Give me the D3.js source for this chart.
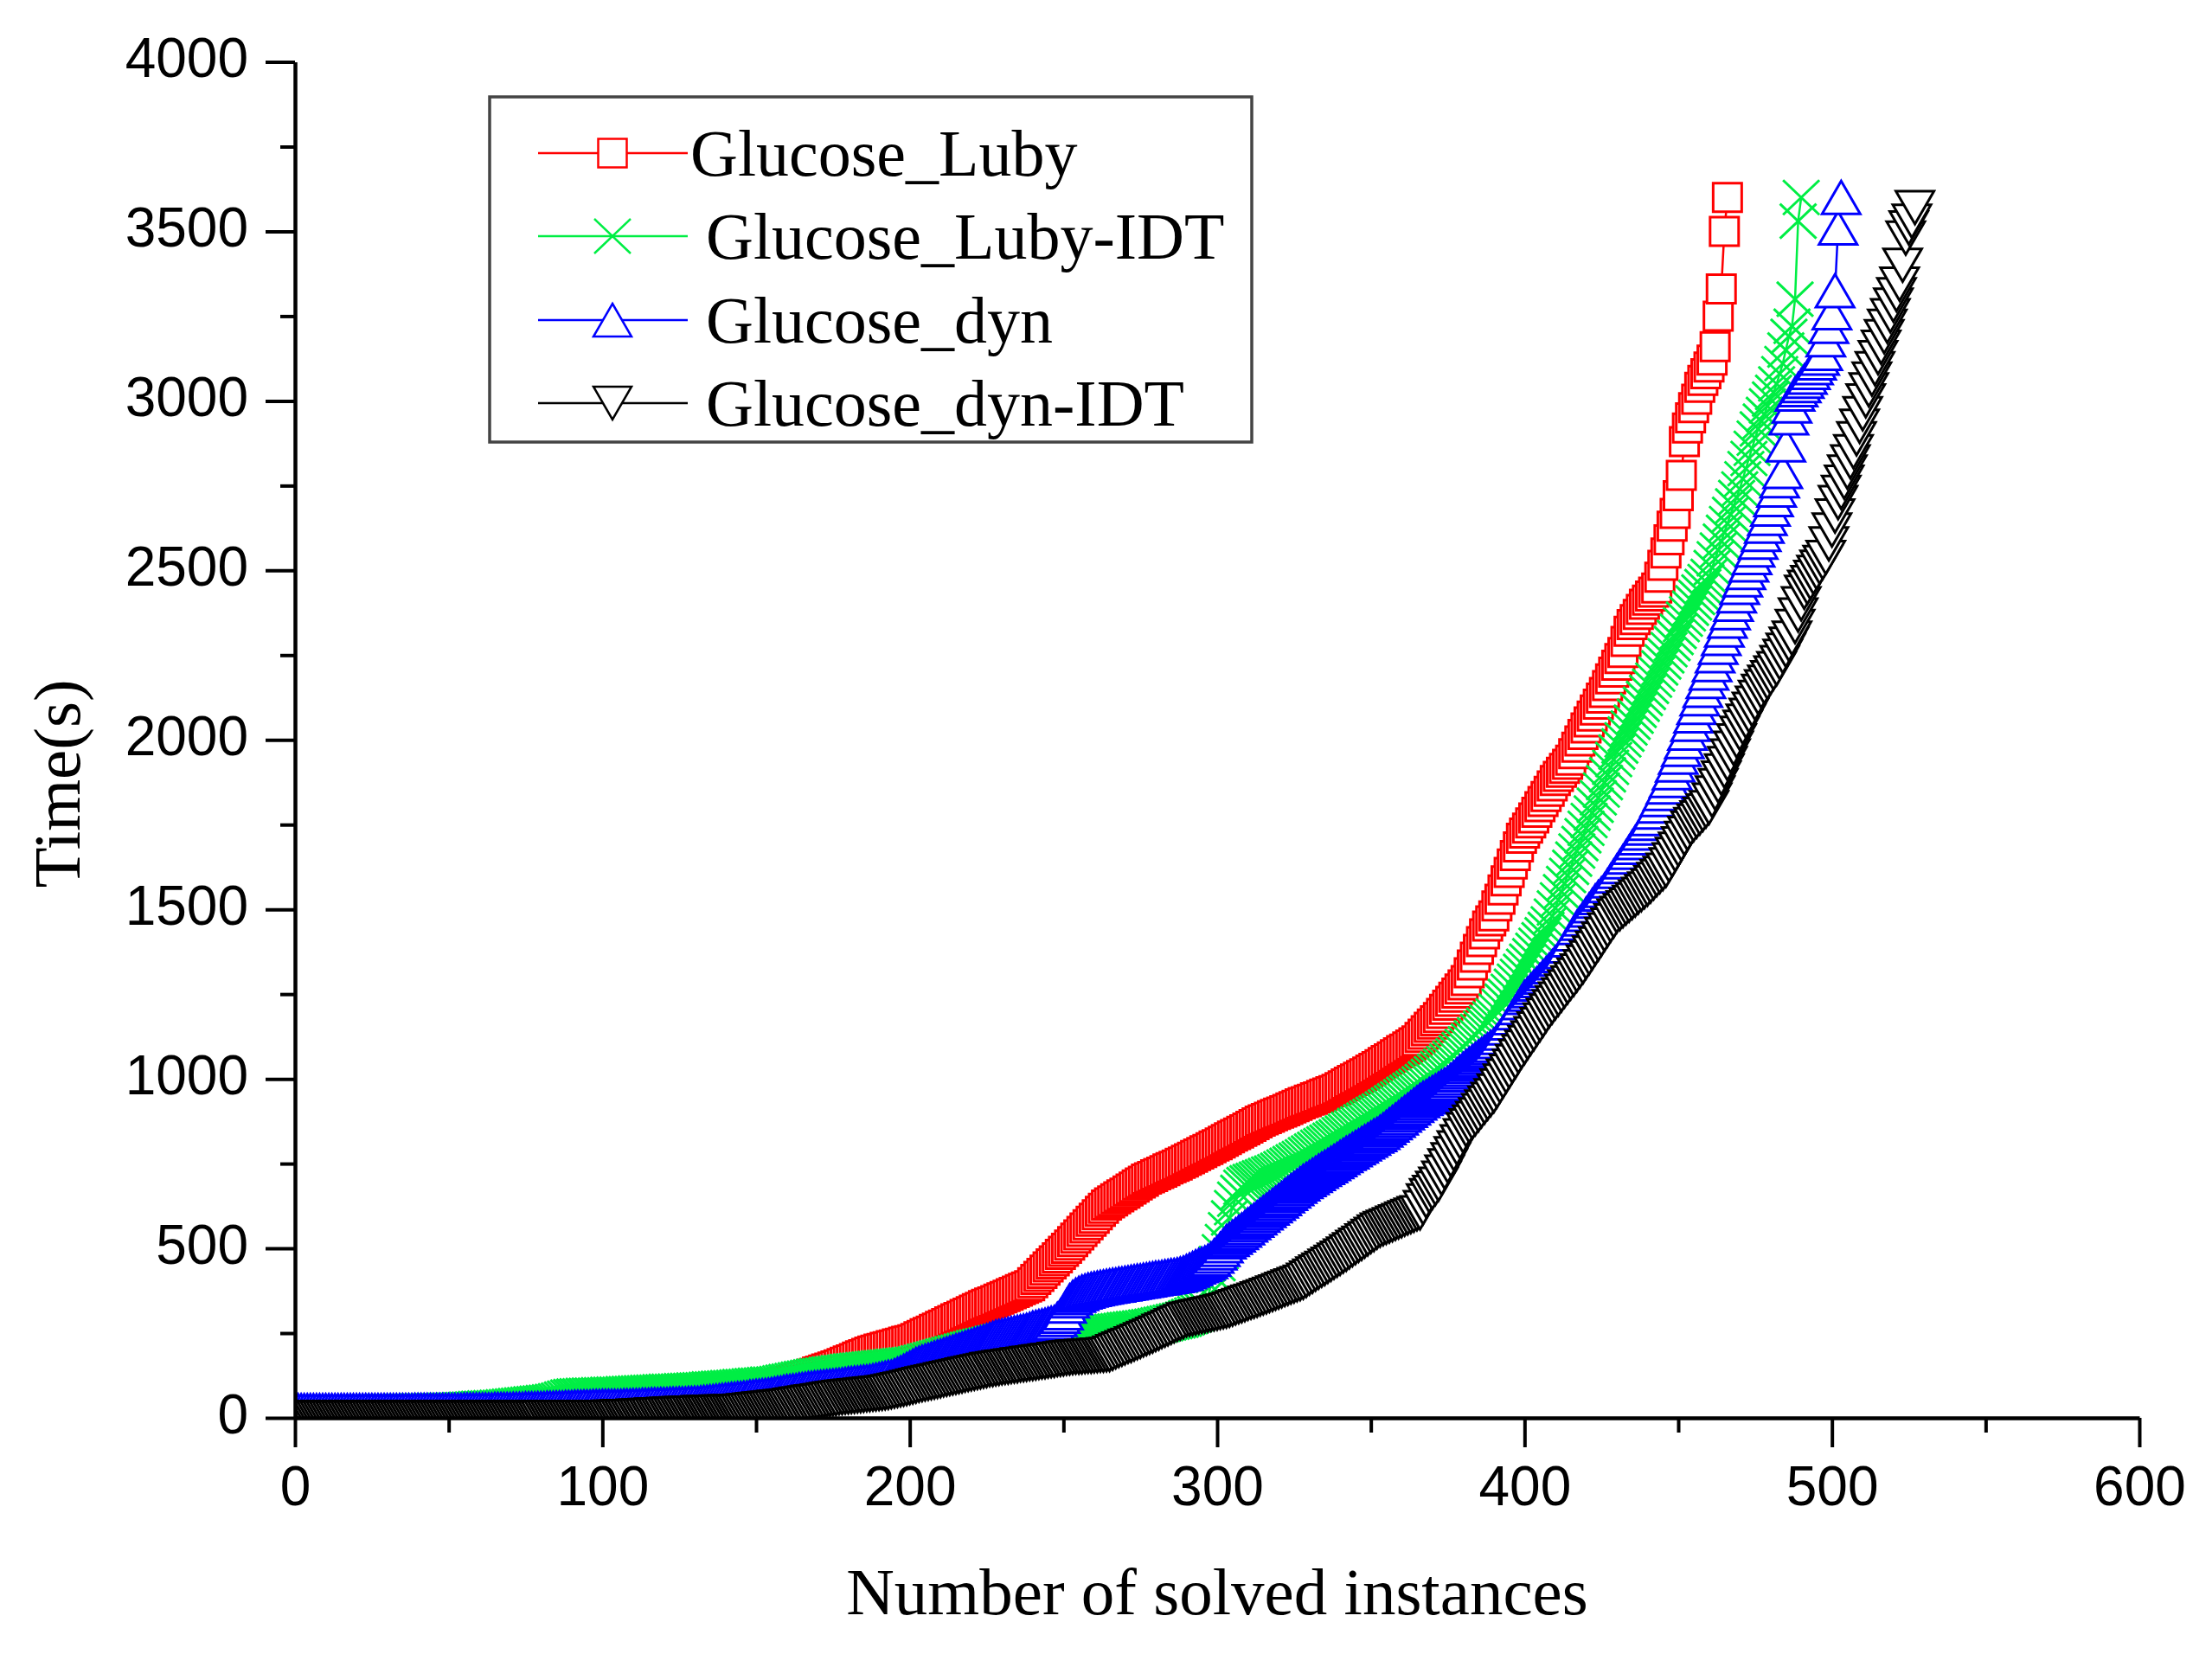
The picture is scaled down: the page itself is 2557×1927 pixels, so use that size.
<!DOCTYPE html>
<html><head><meta charset="utf-8">
<script src="https://cdn.jsdelivr.net/npm/d3@7"></script>
<style>body{margin:0;background:#fff}</style>
</head><body>
<svg id="chart" width="2557" height="1927" xmlns="http://www.w3.org/2000/svg"></svg>
<script>
const seriesNames = ["Glucose_Luby","Glucose_Luby-IDT","Glucose_dyn","Glucose_dyn-IDT"];
const seriesColors = ["#ff0000","#00ee44","#0000ff","#000000"];
const seriesShapes = ["square","cross","up","down"];
const xTicks = [0,100,200,300,400,500,600];
const xMinorTicks = [50,150,250,350,450,550];
const yTicks = [0,500,1000,1500,2000,2500,3000,3500,4000];
const yMinorTicks = [250,750,1250,1750,2250,2750,3250,3750];

// sorted solving times (s), instance k is at index k-1
const lubyTimes = [
5,5,6,6,6,7,7,7,8,8, 8,9,9,9,10,10,10,11,11,11, 12,12,12,13,13,13,14,14,14,15,
15,15,16,16,16,17,17,17,18,18, 18,19,19,19,20,20,20,21,21,21, 22,22,22,23,23,23,24,24,24,25,
25,26,26,27,27,28,28,29,29,30, 30,31,31,32,32,33,33,34,34,35, 35,36,36,37,37,38,38,39,39,40,
40,41,42,43,44,45,45,46,46,47, 47,48,48,49,49,50,50,51,52,52, 53,53,54,55,55,56,56,57,58,58,
59,60,60,61,62,62,63,64,65,65, 66,67,68,69,70,71,72,73,74,75, 76,77,78,79,80,82,83,84,86,87,
89,90,92,94,96,98,100,102,104,106, 108,110,113,116,119,122,125,128,131,135,
138,141,144,147,150,153,156,160,164,168, 171,175,179,183,186,190,194,197,200,203,
205,208,210,213,215,218,220,223,226,228, 230,234,239,243,248,252,256,261,265,270,
274,278,283,287,292,296,300,305,309,313, 318,322,326,331,335,339,
342,346,350,354,358,362,366,370,374,378,382,386,390,
399,408,417,426,436,445,454,463,472,482,491,500,510,
520,530,540,550,560,570,580,589,599,609,618,628,
634,640,646,652,658,663,669,675,681,687,693,698,704,
708,712,717,721,725,729,734,738,742,746,751,755,
760,764,769,774,778,783,788,792,797,802,806,811,816,
821,826,831,836,840,845,850,855,860,865,870,875,
879,883,887,891,895,899,902,906,910,914,918,922,926,
930,933,937,940,944,947,951,955,958,962,965,969,
974,979,985,990,995,1000,1005,1010,1015,1020,1026,1031,1036,
1042,1048,1054,1059,1065,1071,1077,1083,1088,1094,1100,1106,1112,
1122,1132,1142,1152,1162,1171,1181,
1193,1205,1217,1229,1241,1253,1265,1277,1290,
1313,1336,1359,1382,1405,1428,1451,
1466,1481,1510,1530,1557,1584, 1609,1634,1659,1684,1710,
1725,1740,1755,1770,1786,1803, 1818,1833,1848,1864,1880,
1892,1904,1916,1928,1940, 1959,1978,1997,2016,2035,2053,
2070,2088,2105,2123,2140, 2160,2180,2200,2220,2240,2258,
2290,2320,2340, 2355,2370,2385,2400, 2412,2424,2436,2448,
2480,2515,2551, 2590,2630,2668, 2720,2780,2880, 2920,2950,2980,
3005,3040,3060,3080, 3100,3120,3160,3250, 3330,3500,3600
];

const lubyIdtTimes = [
12,12,12,13,13,13,13,14,14,14, 14,14,15,15,15,15,15,16,16,16, 16,16,16,17,17,17,17,17,18,18,
18,18,18,18,19,19,19,19,19,20, 20,20,20,20,21,21,21,21,22,22, 22,23,23,24,24,25,25,26,27,28,
28,29,29,30,30,31,31,32,33,34, 35,36,37,38,39,40,41,42,43,44, 45,46,47,48,50,52,55,58,61,63,
64,65,65,66,66,67,67,67,68,68, 68,69,69,70,70,70,71,71,72,72, 73,73,74,74,75,75,76,76,77,77,
78,78,78,79,79,80,80,81,81,82, 82,83,83,84,85,85,86,87,87,88, 89,89,90,91,92,92,93,94,95,96,
96,97,98,99,99,100,101,103,105,107, 108,110,112,114,116,117,119,121,123,124,
125,126,128,129,130,131,133,134,135,137, 138,139,140,141,142,143,144,145,146,147,
148,149,150,151,152,153,154,155,156,157, 158,159,162,164,167,169,172,174,177,179,
182,184,187,189,192,194,197,199,202,204, 207,209,211,213,215,217,219,221,223,225,
226,227,228,229,230,231,233,234,236,238, 238,239,239,240,240,241,241,242,243,243,
244,244,245,245,246,246,247,248,249,250, 250,251,252,253,254,255,256,257,258,260,
261,262,263,264,265,266,268,269,270,272, 274,276,278,280,282,284,286,288,291,295,
299,303,307,312,318,325,360,390,420,455,490,520,
555,590,620,645,665,680,688,693,697,700, 704,708,711,715,719,722,726,730,
735,740,745,750,755,760,765,770,776,781, 787,792,798,803,808,813,819,824,829,835,840,
845,851,856,862,867,873,878,884,889,895,900,905,
911,917,923,929,935,941,947,954,960,966,972,978,985,
992,1000,1007,1015,1022,1030,1037,1045,1052, 1060,1068,1077,1086,1095,1103,
1112,1121,1130,1140,1149,1158,1167,1177,1186,
1200,1214,1229,1243,1258,1273,1288,1302,1317,1332,
1347,1363,1379,1394,1410,1425,1441,1457,
1480,1504,1528,1552,1576,1600,1624,1648,1672,
1694,1717,1739,1762,1784,1807,1829,1852,1874,1897,1919,1942,1964,
1982,2000,2017,2035,2052,2070,2087,2105,2122,2140,
2158,2176,2194,2212,2230,2248,2266,2284,2302,2320,2340,
2356,2372,2388,2404,2420,2436,2452,2467,2482,
2508,2534,2560,2586,2612,2638,2665,
2690,2715,2740,2770,2800,2830,2860,2890,2917,
2940,2960,2985,3005,3025,3050,3080,
3110,3150,3190,3220,3300,3530,3600
];

const dynTimes = [
21,21,21,21,21,21,21,21,21,21, 21,21,21,21,21,21,21,21,21,21, 21,21,21,21,21,21,21,21,21,21,
21,21,21,21,21,21,21,21,22,22, 22,22,22,22,22,22,22,22,22,22, 22,22,22,22,23,23,23,23,23,23,
23,23,23,23,24,24,24,24,24,24, 25,25,25,25,26,26,26,26,27,27, 27,28,28,28,29,29,29,30,30,30,
31,31,31,32,32,32,33,33,33,34, 34,34,34,34,34,34,35,35,35,36, 36,36,37,37,37,38,38,38,39,39,
39,40,40,40,41,41,41,42,42,43, 43,44,45,46,47,48,49,50,51,52, 53,54,55,56,57,58,59,61,62,63,
64,65,66,67,68,70,72,73,75,77, 78,79,80,82,83,84,86,87,88,89,
90,91,92,93,94,95,96,97,98,100, 101,102,103,104,105,106,107,109,111,113,
115,117,119,120,124,128,132,137,142,147, 152,157,161,164,167,170,173,176,179,182,
185,188,191,194,197,200,203,206,209,212, 215,218,221,224,227,230,234,238,240,242,
244,246,248,250,252,254,256,258,261,265, 267,269,271,273,276,279,281,290,300,310,
330,345,355,362,367,371,374,377,379,381, 383,385,386,388,389,391,392,394,395,397,
398,400,401,403,404,406,407,409,410,412, 413,414,416,417,419,420,422,424,427,431,
436,440,445,449,453,457,461,468,477,487, 497,508,519,526,533,540,547,554,561,569,
576,583,590,598,605,612,619,626,633,640, 647,655,662,669,676,683,690,697,703,709,
715,721,727,733,739,744,750,756,762,768,774,
780,785,791,797,802,808,814,819,825,831,836,842,
849,856,864,871,878,885,893,900,907,914,922,929,936,
942,947,953,959,964,970,976,981,987,
995,1003,1012,1020,1028,1036,
1043,1050,1057,1064,1071,1078,1085,1092,1099,1110,1122,
1135,1150,1165,1180,1195,1210,1225,1240,
1250,1260,1270,1280,1290,1300,1310,1320,1331,1342,1353,1364,1375,
1392,1410,1428,1446, 1459,1472,1485,1498,1511,1524,1535,1545,
1556,1570,1584,1598,1612,1626,1640, 1654,1668,1683,1697,1711,1725,1740,1754,1768,
1787,1805,1824,1842,1861,1880, 1903,1926,1949,1972,1995,
2020,2046,2071,2096,2121,2146,2172,2197,2222,
2248,2273,2299,2324,2350, 2375,2400,2425,2450,
2472,2494,2516,2538,2560, 2583,2606,2630,2653,
2681,2709,2737,2764,2792, 2870,2950,2985,3020,
3033,3045,3058,3070, 3084,3098,3112,3126,3140,
3180,3220,3260,3325,3510,3600
];

const dynIdtTimes = [
0,0,0,0,0,0,0,0,0,0, 0,0,0,0,0,0,0,0,0,0, 0,0,0,0,0,0,0,0,0,0, 0,0,0,0,0,0,0,0,0,0,
0,0,0,0,0,0,0,0,0,0, 0,0,0,0,0,0,0,0,0,0, 0,0,0,0,0,0,0,0,0,0, 0,0,0,0,0,0,0,0,0,0,
1,1,1,1,1,1,1,1,1,1, 1,1,1,1,1,1,1,1,1,1,
1,1,2,2,2,3,3,3,4,4, 5,5,6,6,7,7,8,8,9,9, 10,10,11,11,12,12,13,13,14,14,
14,15,15,15,16,16,16,17,17,17,18,18,18,18,
19,20,21,22,23,24,25,26,27,28,29,30,31,32,33,34,35,37,38,40,41,43,44,46,47,
48,50,51,53,54,56,57,59,
60,61,62,63,64,65,66,67,68,69,70,71,72,73,74,75,77,
79,81,83,85,87,89,91,94,
96,98,100,102,104,106,108,110,112,114,116,118,120,122,124,126,128,130,132,134,136,138,140,142,143,145,
146,148,149,150,152,153,154,156,157,158,160,161,162,164,165,166,168,169,170,172,173,174,176,177,178,
179,179,180,181,182,182,183,184,185,185,186,187,
191,195,199,203,207,211,214,218,222,226,230,234,238,
242,246,250,255,259,263,267,272,276,280,284,289,
291,293,295,297,299,301,303,305,307,309,311,313,315,
318,321,325,328,331,334,338,341,344,347,351,354,357,
361,364,368,371,375,379,382,386,389,393,396,400,
406,412,418,424,430,436,441,447,453,459,465,471,477,
483,490,496,503,509,515,522,528,535,541,548,554,
558,562,566,570,574,578,582,586,590,594,598,602,605,
620,640,655,665,677,689,
707,725,743,761,779,796,814,832,850,
861,872,883,894,906,917,928,939,950,
964,979,993,1008,1022,1037,1051,1066,1080,
1093,1107,1120,1133,1147,1160,1173,1187,1200,
1212,1224,1235,1247,1259,1271,1283,1294,1306,1318,1330,
1344,1357,1371,1385,1398,1412,1426,1439,1453,1466,1480,
1488,1496,1504,1512,1520,1528,1536,1544,1552,1560,
1569,1578,1588,1597,1606,1615,
1631,1646,1662,1677,1693,1709,1724,1740,
1750,1760,1770,1780,1790,1800,
1822,1843,1865,1887,1908,1930,
1952,1975,1997,2019,
2037,2055,2072,2090,2108,2125,2143,
2156,2170,2183,2197,2210,
2228,2246,2264,2282,2300,
2334,2368,2401,2435,
2450,2464,2479,2494,2509,2523,2538,
2578,2619,2660,2700,
2730,2760,2790,2820,2850,
2888,2925,2962,3000,
3032,3064,3095,3127,
3158,3189,3220,
3251,3282,3313,3344,
3400,3480,3510,3530,3570
];

const seriesValues = [lubyTimes, lubyIdtTimes, dynTimes, dynIdtTimes];

const svg = d3.select("#chart");
const x = d3.scaleLinear().domain([0, 600]).range([341, 2473]);
const y = d3.scaleLinear().domain([0, 4000]).range([1639, 71.5]);

const markerPath = {
  square: "M-16.5,-16.5H16.5V16.5H-16.5Z",
  cross: "M-21,-20L21,20M21,-20L-21,20",
  up: "M0,-19L22,19L-22,19Z",
  down: "M-22,-19L22,-19L0,19Z"
};

svg.append("defs").append("clipPath").attr("id", "plotClip")
  .append("rect").attr("x", x(0)).attr("y", 0)
  .attr("width", x(600) - x(0)).attr("height", y(0));

const plot = svg.append("g").attr("clip-path", "url(#plotClip)");
const line = d3.line().x((d, i) => x(i + 1)).y(d => y(d));

seriesValues.forEach((vals, s) => {
  const g = plot.append("g");
  g.append("path").attr("d", line(vals)).attr("fill", "none")
    .attr("stroke", seriesColors[s]).attr("stroke-width", 2.5);
  g.selectAll("path.m").data(vals).join("path").attr("class", "m")
    .attr("transform", (d, i) => `translate(${x(i + 1)},${y(d)})`)
    .attr("d", markerPath[seriesShapes[s]])
    .attr("fill", seriesShapes[s] === "cross" ? "none" : "#fff")
    .attr("stroke", seriesColors[s]).attr("stroke-width", 3);
});

// axes
const tickFont = "'Liberation Sans', Arial, sans-serif";
const fmt = d3.format("d");
function styleAxis(g) {
  g.attr("font-family", tickFont).attr("font-size", 64);
  g.selectAll(".domain").attr("stroke", "#000").attr("stroke-width", 4.5);
  g.selectAll(".tick line").attr("stroke", "#000").attr("stroke-width", 4);
  g.selectAll(".tick text").attr("fill", "#000");
}
const gx = svg.append("g").attr("transform", `translate(0,${y(0)})`)
  .call(d3.axisBottom(x).tickValues(xTicks).tickFormat(fmt).tickSize(34).tickSizeOuter(0).tickPadding(22));
styleAxis(gx);
const gxm = svg.append("g").attr("transform", `translate(0,${y(0)})`)
  .call(d3.axisBottom(x).tickValues(xMinorTicks).tickSize(17).tickFormat(""));
gxm.select(".domain").remove();
styleAxis(gxm);

const gy = svg.append("g").attr("transform", `translate(${x(0)},0)`)
  .call(d3.axisLeft(y).tickValues(yTicks).tickFormat(fmt).tickSize(34).tickSizeOuter(0).tickPadding(20));
styleAxis(gy);
gy.selectAll(".tick text").attr("dy", "0.27em");
const gym = svg.append("g").attr("transform", `translate(${x(0)},0)`)
  .call(d3.axisLeft(y).tickValues(yMinorTicks).tickSize(17).tickFormat(""));
gym.select(".domain").remove();
styleAxis(gym);

// titles
const serif = "'Liberation Serif', 'Times New Roman', serif";
svg.append("text").attr("x", (x(0) + x(600)) / 2).attr("y", 1866)
  .attr("text-anchor", "middle").attr("font-family", serif).attr("font-size", 77)
  .text("Number of solved instances");
svg.append("text").attr("transform", "translate(92,906) rotate(-90)")
  .attr("text-anchor", "middle").attr("font-family", serif).attr("font-size", 77)
  .text("Time(s)");

// legend
const legend = svg.append("g");
legend.append("rect").attr("x", 566).attr("y", 112).attr("width", 881).attr("height", 399)
  .attr("fill", "#fff").attr("stroke", "#444").attr("stroke-width", 3.5);
const rowY = [177, 273, 370, 466];
const textX = [798, 816, 816, 816];
seriesNames.forEach((name, s) => {
  const row = legend.append("g");
  row.append("line").attr("x1", 622).attr("x2", 795).attr("y1", rowY[s]).attr("y2", rowY[s])
    .attr("stroke", seriesColors[s]).attr("stroke-width", 2.5);
  row.append("path").attr("transform", `translate(708,${rowY[s]})`)
    .attr("d", markerPath[seriesShapes[s]])
    .attr("fill", seriesShapes[s] === "cross" ? "none" : "#fff")
    .attr("stroke", seriesColors[s]).attr("stroke-width", 2.5);
  row.append("text").attr("x", textX[s]).attr("y", rowY[s] + 26)
    .attr("font-family", serif).attr("font-size", 76).attr("fill", "#000").text(name);
});
</script>
</body></html>
